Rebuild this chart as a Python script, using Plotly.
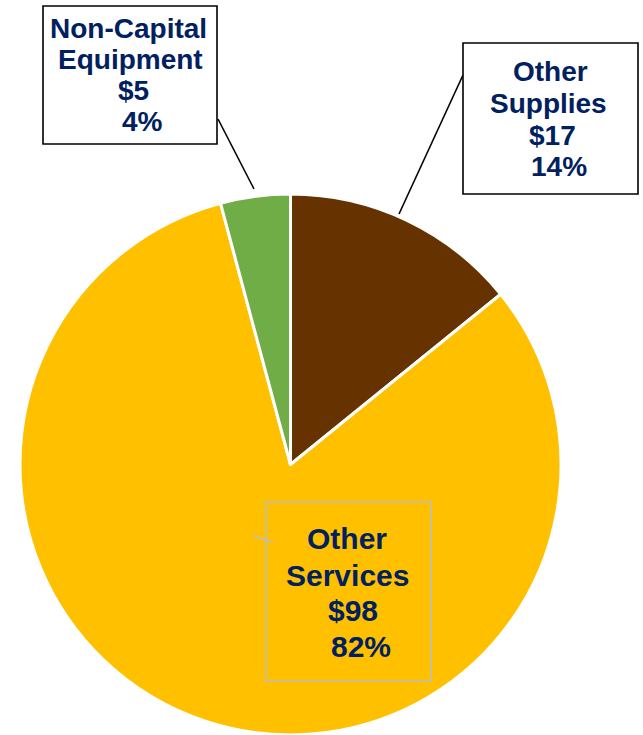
import plotly.graph_objects as go

# Spending breakdown (in $)
categories = ["Other Supplies", "Other Services", "Non-Capital Equipment"]
values = [17, 98, 5]
colors = ["#663300", "#FFC000", "#70AD47"]

W, H = 643, 735
TEXT_COLOR = "#002060"
FONT = "Liberation Sans, Arial, sans-serif"


def px_x(x):
    return x / W


def px_y(y):
    return 1 - y / H


total = sum(values)
percents = [round(100 * v / total) for v in values]


def label_lines(name, value, pct):
    words = name.split(" ")
    if len(words) > 2:
        head = " ".join(words[:-1])
        tail = words[-1]
    else:
        head, tail = words[0], " ".join(words[1:])
    return [head, tail, f"${value}", f"{pct}%"]


# Callout layout for each category (pixel geometry)
callouts = {
    "Non-Capital Equipment": dict(
        box=(43, 6, 217, 144), fill="white", border="black", bw=1.6,
        xs=[128, 130, 133, 142], baselines=[38, 69.5, 100, 131.5], size=28,
        leader=((218, 119), (254, 189)), lcolor="black",
    ),
    "Other Supplies": dict(
        box=(463, 43, 638, 194), fill="white", border="black", bw=1.6,
        xs=[550, 548.5, 552, 558.5], baselines=[81, 113, 145, 176.5], size=28,
        leader=((463, 75), (399, 214)), lcolor="black",
    ),
    "Other Services": dict(
        box=(266, 502, 431, 681), fill="rgba(0,0,0,0)", border="#BFBFBF", bw=1.6,
        xs=[347, 347, 353, 361.5], baselines=[549, 586, 621, 657], size=30,
        leader=((253, 535.5), (273, 542.5)), lcolor="#BFBFBF",
    ),
}

fig = go.Figure(
    go.Pie(
        labels=categories,
        values=values,
        sort=False,
        direction="clockwise",
        rotation=0,
        marker=dict(colors=colors, line=dict(color="white", width=3)),
        textinfo="none",
        showlegend=False,
        domain=dict(x=[20 / W, 561 / W], y=[0, 541 / H]),
    )
)

shapes = []
annotations = []
for name, value, pct in zip(categories, values, percents):
    c = callouts[name]
    (x0, y0), (x1, y1) = c["leader"]
    shapes.append(dict(
        type="line", xref="paper", yref="paper",
        x0=px_x(x0), y0=px_y(y0), x1=px_x(x1), y1=px_y(y1),
        line=dict(color=c["lcolor"], width=1.6),
    ))
    bx0, by0, bx1, by1 = c["box"]
    shapes.append(dict(
        type="rect", xref="paper", yref="paper",
        x0=px_x(bx0), y0=px_y(by0), x1=px_x(bx1), y1=px_y(by1),
        fillcolor=c["fill"], line=dict(color=c["border"], width=c["bw"]),
        layer="above",
    ))
    for text, lx, base in zip(label_lines(name, value, pct), c["xs"], c["baselines"]):
        annotations.append(dict(
            text=f"<b>{text}</b>", xref="paper", yref="paper",
            x=px_x(lx), y=px_y(base - 0.35 * c["size"]),
            xanchor="center", yanchor="middle", showarrow=False,
            font=dict(family=FONT, size=c["size"], color=TEXT_COLOR),
        ))

fig.update_layout(
    width=W, height=H,
    margin=dict(l=0, r=0, t=0, b=0),
    paper_bgcolor="white", plot_bgcolor="white",
    shapes=shapes, annotations=annotations,
)

fig.write_html("out.html")
